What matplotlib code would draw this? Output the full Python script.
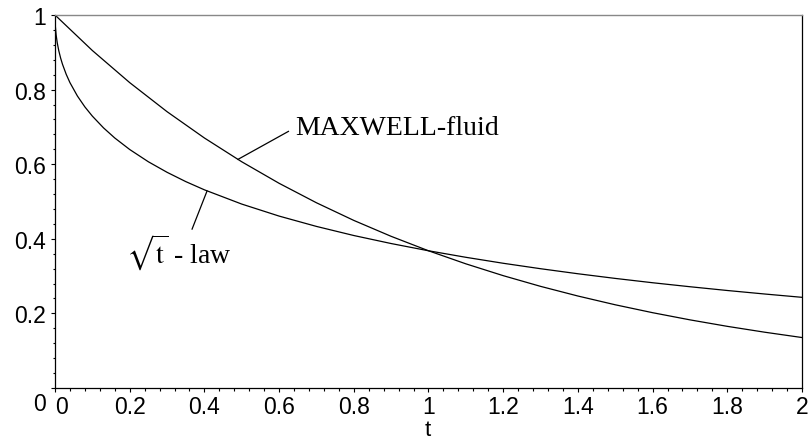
import matplotlib
matplotlib.use("Agg")
import matplotlib.pyplot as plt
from matplotlib.ticker import MultipleLocator
from matplotlib.transforms import ScaledTranslation

# Relaxation curves: MAXWELL fluid and sqrt(t) law
t_maxwell = [0.0, 0.1, 0.2, 0.3, 0.4, 0.5, 0.6, 0.7, 0.8, 0.9, 1.0,
             1.1, 1.2, 1.3, 1.4, 1.5, 1.6, 1.7, 1.8, 1.9, 2.0]
g_maxwell = [1.0, 0.9048, 0.8187, 0.7408, 0.6703, 0.6065, 0.5488, 0.4966,
             0.4493, 0.4066, 0.3679, 0.3329, 0.3012, 0.2725, 0.2466, 0.2231,
             0.2019, 0.1827, 0.1653, 0.1496, 0.1353]

t_sqrt = [0.0, 0.001, 0.003, 0.006, 0.01, 0.015, 0.02, 0.03, 0.04, 0.06,
          0.08, 0.1, 0.13, 0.16, 0.2, 0.25, 0.3, 0.35, 0.4, 0.5, 0.6, 0.7,
          0.8, 0.9, 1.0, 1.1, 1.2, 1.3, 1.4, 1.5, 1.6, 1.7, 1.8, 1.9, 2.0]
g_sqrt = [1.0, 0.9689, 0.9467, 0.9255, 0.9048, 0.8847, 0.8681, 0.8410,
          0.8187, 0.7828, 0.7536, 0.7289, 0.6973, 0.6703, 0.6394, 0.6065,
          0.5783, 0.5534, 0.5313, 0.4931, 0.4609, 0.4332, 0.4088, 0.3873,
          0.3679, 0.3504, 0.3344, 0.3198, 0.3063, 0.2938, 0.2822, 0.2715,
          0.2614, 0.2520, 0.2431]

x_ticks = [0, 0.2, 0.4, 0.6, 0.8, 1, 1.2, 1.4, 1.6, 1.8, 2]
x_labels = ["0", "0.2", "0.4", "0.6", "0.8", "1", "1.2", "1.4", "1.6", "1.8", "2"]
y_ticks = [0, 0.2, 0.4, 0.6, 0.8, 1]
y_labels = ["0", "0.2", "0.4", "0.6", "0.8", "1"]

plt.rcParams["mathtext.fontset"] = "stix"
plt.rcParams["mathtext.rm"] = "Liberation Sans"
sans = "Liberation Sans"
serif = "Liberation Serif"

W, H = 812, 439
fig = plt.figure(figsize=(W / 100, H / 100), dpi=100)
ax = fig.add_axes([55 / W, 50 / H, 747 / W, 373 / H])

ax.plot(t_maxwell, g_maxwell, color="black", lw=0.9)
ax.plot(t_sqrt, g_sqrt, color="black", lw=0.9)

ax.set_xlim(0, 2)
ax.set_ylim(0, 1)

ax.set_xticks(x_ticks)
ax.set_xticklabels(x_labels, fontfamily=sans, fontsize=16.5)
ax.set_yticks(y_ticks)
ax.set_yticklabels(y_labels, fontfamily=sans, fontsize=16.5)
ax.xaxis.set_minor_locator(MultipleLocator(0.04))
ax.yaxis.set_minor_locator(MultipleLocator(0.04))
ax.tick_params(which="major", direction="out", length=3.2, width=0.8)
ax.tick_params(axis="x", which="major", pad=1.9)
ax.tick_params(axis="y", which="major", pad=3.5)
ax.tick_params(which="minor", direction="out", length=1.8, width=0.8)

# nudge the two zero labels off the corner
lbl_x0 = ax.get_xticklabels()[0]
lbl_x0.set_transform(lbl_x0.get_transform() + ScaledTranslation(7 / 100, 0, fig.dpi_scale_trans))
lbl_y0 = ax.get_yticklabels()[0]
lbl_y0.set_transform(lbl_y0.get_transform() + ScaledTranslation(0, -13 / 100, fig.dpi_scale_trans))

# axis title, set in the sans face through mathtext for a tight box
ax.set_xlabel(r"$\mathrm{t}$", fontsize=16, va="center", math_fontfamily="custom")
ax.xaxis.set_label_coords(0.5, -0.109)

for side in ("left", "bottom", "right"):
    ax.spines[side].set_color("black")
    ax.spines[side].set_linewidth(0.9)
ax.spines["top"].set_color("#888888")
ax.spines["top"].set_linewidth(1.0)

# curve annotations
ax.plot([0.49, 0.625], [0.613, 0.688], color="black", lw=0.9)
ax.text(0.643, 0.680, "MAXWELL-fluid", fontfamily=serif, fontsize=20,
        ha="left", va="baseline")

ax.plot([0.407, 0.367], [0.528, 0.426], color="black", lw=0.9)
ax.text(0.19, 0.337, r"$\sqrt{\mathrm{t}}$ - law", fontfamily=serif, fontsize=20,
        ha="left", va="baseline")

fig.savefig("out.png", dpi=100)
